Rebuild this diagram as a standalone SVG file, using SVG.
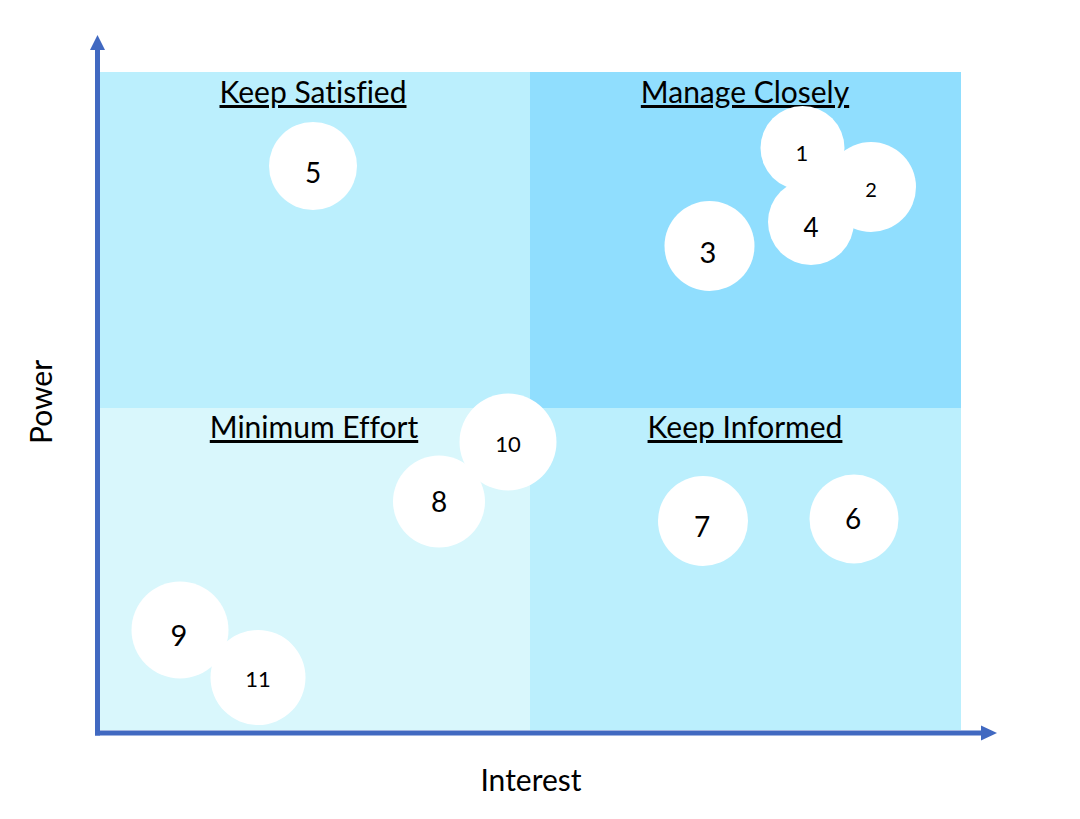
<svg xmlns="http://www.w3.org/2000/svg" width="1080" height="819" viewBox="0 0 1080 819">
<defs>
<style>
.lbl{font-family:Lato,"Open Sans","Liberation Sans",sans-serif;font-size:30px;fill:#000;text-anchor:middle;text-decoration:underline;font-variant-ligatures:none;}
.ax{font-family:Lato,"Open Sans","Liberation Sans",sans-serif;font-size:30px;fill:#000;text-anchor:middle;}
.num{font-family:Lato,"Open Sans","Liberation Sans",sans-serif;fill:#000;text-anchor:middle;}
.dot{fill:#fff;}
.axis{stroke:#4169C1;stroke-width:5;fill:none;}
.head{fill:#4169C1;}
</style>
</defs>
<rect width="1080" height="819" fill="#fff"/>
<g id="quadrants">
<rect x="100" y="72" width="430" height="336" fill="#BBEFFD"/>
<rect x="530" y="72" width="431" height="336" fill="#90DEFE"/>
<rect x="100" y="408" width="430" height="322" fill="#D9F7FC"/>
<rect x="530" y="408" width="431" height="322" fill="#BBEFFD"/>
</g>
<g id="labels">
<text class="lbl" x="313" y="103">Keep Satisfied</text>
<text class="lbl" x="745" y="103">Manage Closely</text>
<text class="lbl" x="314" y="438">Minimum Effort</text>
<text class="lbl" x="745" y="438">Keep Informed</text>
<text class="ax" x="531" y="791" font-size="29">Interest</text>
<text class="ax" transform="translate(52,402) rotate(-90)" x="0" y="0">Power</text>
</g>
<g id="connectors">
<line class="axis" x1="97.5" y1="735.5" x2="97.5" y2="48"/>
<polygon class="head" points="97.5,35 90,50 105,50"/>
<line class="axis" x1="95" y1="733" x2="983" y2="733"/>
<polygon class="head" points="997,733 981,725.5 981,740.5"/>
</g>
<g id="node-5"><circle class="dot" cx="313" cy="166" r="44"/><text class="num" x="313" y="183" font-size="28">5</text></g>
<g id="node-1"><circle class="dot" cx="802.5" cy="148" r="42"/><text class="num" x="802" y="161" font-size="22">1</text></g>
<g id="node-2"><circle class="dot" cx="871" cy="187" r="45"/><text class="num" x="871" y="197" font-size="20">2</text></g>
<g id="node-4"><circle class="dot" cx="811" cy="222" r="43"/><text class="num" x="811" y="237" font-size="26">4</text></g>
<g id="node-3"><circle class="dot" cx="709.5" cy="246" r="45"/><text class="num" x="708" y="263" font-size="29">3</text></g>
<g id="node-10"><circle class="dot" cx="508" cy="442" r="48.5"/><text class="num" x="508" y="452" font-size="22">10</text></g>
<g id="node-8"><circle class="dot" cx="439" cy="501.5" r="46"/><text class="num" x="439" y="512" font-size="28">8</text></g>
<g id="node-7"><circle class="dot" cx="703" cy="521" r="45"/><text class="num" x="702" y="537" font-size="28">7</text></g>
<g id="node-6"><circle class="dot" cx="854" cy="519" r="44.5"/><text class="num" x="853" y="529" font-size="28">6</text></g>
<g id="node-9"><circle class="dot" cx="180" cy="630" r="48.5"/><text class="num" x="179" y="646" font-size="29">9</text></g>
<g id="node-11"><circle class="dot" cx="258" cy="677.5" r="47.5"/><text class="num" x="258" y="687" font-size="22">11</text></g>
</svg>
